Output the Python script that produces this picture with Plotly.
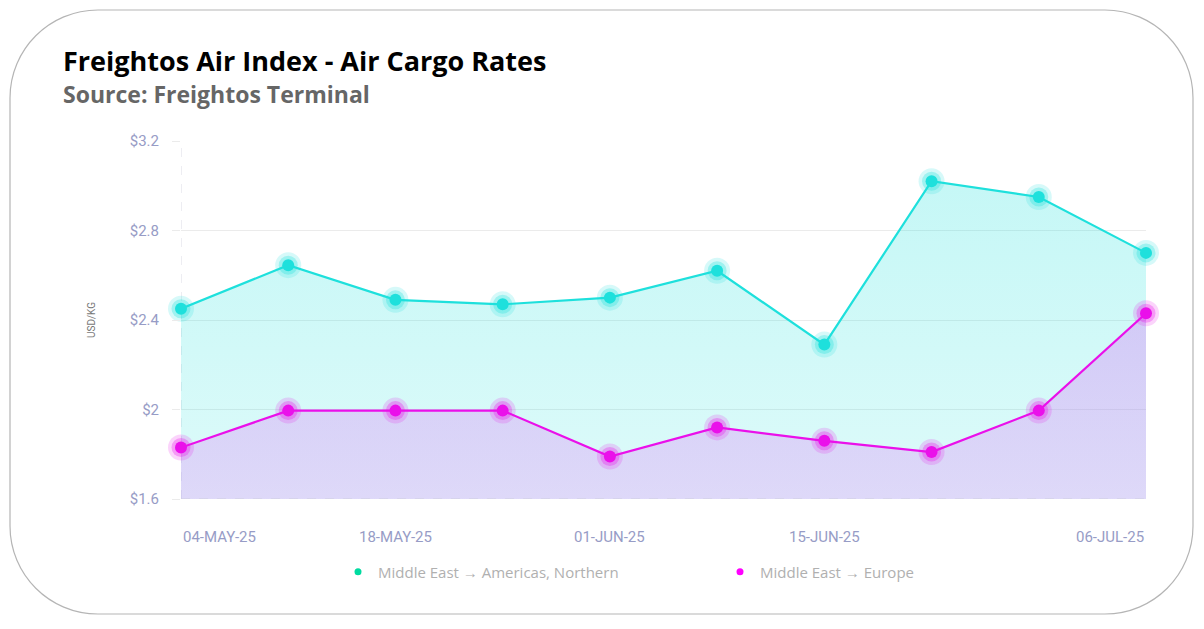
import plotly.graph_objects as go

# page body has an 8px margin, so the figure is drawn 8px in from the window edge
OFF = 8
W, H = 1204 - 2 * OFF, 629 - 2 * OFF
ML, MT = 181 - OFF, 141 - OFF
MR = W - (1146 - OFF)
MB = H - (499 - OFF)

dates = ["2025-05-04", "2025-05-11", "2025-05-18", "2025-05-25", "2025-06-01",
         "2025-06-08", "2025-06-15", "2025-06-22", "2025-06-29", "2025-07-06"]
americas = [2.45, 2.645, 2.49, 2.47, 2.50, 2.62, 2.29, 3.02, 2.95, 2.70]
europe = [1.83, 1.995, 1.995, 1.995, 1.79, 1.92, 1.86, 1.81, 1.995, 2.43]

tick_dates = ["2025-05-04", "2025-05-18", "2025-06-01", "2025-06-15", "2025-07-06"]
tick_text = ["04-MAY-25", "18-MAY-25", "01-JUN-25", "15-JUN-25", "06-JUL-25"]

names = ["Middle East \u2192 Americas, Northern", "Middle East \u2192 Europe"]

CYAN = "#1ee0dc"
MAGENTA = "#ea10ea"
LEGEND_COLORS = ["#00dba0", "#ff00ff"]
TICK_COLOR = "#979cc6"

pw = W - ML - MR
ph = H - MT - MB


def paper_x(x):
    return (x - OFF - ML) / pw


def paper_y(y):
    return (H - MB - (y - OFF)) / ph


def px(x, y):
    # window pixel position -> paper coords
    return f"{paper_x(x):.5f},{paper_y(y):.5f}"


def card_path(x0, y0, x1, y1, r):
    k = r * 0.5523
    return (
        f"M {px(x0 + r, y0)} L {px(x1 - r, y0)} "
        f"C {px(x1 - r + k, y0)} {px(x1, y0 + r - k)} {px(x1, y0 + r)} "
        f"L {px(x1, y1 - r)} "
        f"C {px(x1, y1 - r + k)} {px(x1 - r + k, y1)} {px(x1 - r, y1)} "
        f"L {px(x0 + r, y1)} "
        f"C {px(x0 + r - k, y1)} {px(x0, y1 - r + k)} {px(x0, y1 - r)} "
        f"L {px(x0, y0 + r)} "
        f"C {px(x0, y0 + r - k)} {px(x0 + r - k, y0)} {px(x0 + r, y0)} Z"
    )


fig = go.Figure()

# area fills
fig.add_trace(go.Scatter(
    x=dates, y=americas, mode="none", fill="tozeroy", showlegend=False,
    hoverinfo="skip",
    fillgradient=dict(type="vertical", start=1.6, stop=3.2,
                      colorscale=[[0, "rgba(30,225,220,0.15)"], [1, "rgba(30,225,220,0.27)"]]),
))
fig.add_trace(go.Scatter(
    x=dates, y=europe, mode="none", fill="tozeroy", showlegend=False,
    hoverinfo="skip",
    fillgradient=dict(type="vertical", start=1.6, stop=2.5,
                      colorscale=[[0, "rgba(225,110,245,0.24)"], [1, "rgba(215,100,245,0.32)"]]),
))

for vals, col in [(americas, CYAN), (europe, MAGENTA)]:
    # halo rings
    fig.add_trace(go.Scatter(x=dates, y=vals, mode="markers", showlegend=False,
                             hoverinfo="skip", cliponaxis=False,
                             marker=dict(size=26, color=col, opacity=0.18)))
    fig.add_trace(go.Scatter(x=dates, y=vals, mode="markers", showlegend=False,
                             hoverinfo="skip", cliponaxis=False,
                             marker=dict(size=19, color=col, opacity=0.3)))
    fig.add_trace(go.Scatter(x=dates, y=vals, mode="lines+markers", showlegend=False,
                             cliponaxis=False,
                             line=dict(color=col, width=2.2),
                             marker=dict(size=12, color=col)))

# legend entries (dot only)
for nm, col in zip(names, LEGEND_COLORS):
    fig.add_trace(go.Scatter(x=[None], y=[None], mode="markers", name=nm,
                             marker=dict(size=7, color=col)))

# dashed axis lines
fig.add_shape(type="line", xref="x", yref="paper", x0=dates[0], x1=dates[0], y0=0, y1=1,
              line=dict(color="#dcdce6", width=1, dash="dash"), layer="below")
fig.add_shape(type="line", xref="paper", yref="y", x0=0, x1=1, y0=1.6, y1=1.6,
              line=dict(color="#cfcfe0", width=1, dash="dash"), layer="above")

# card border
fig.add_shape(type="path", xref="paper", yref="paper",
              path=card_path(10, 10, 1193, 614, 88),
              line=dict(color="#b5b5b5", width=1.2), layer="below")

# x tick labels
for i, (d, t) in enumerate(zip(tick_dates, tick_text)):
    anchor = "left" if i == 0 else ("right" if i == len(tick_dates) - 1 else "center")
    fig.add_annotation(x=d, y=0, xref="x", yref="paper", text=t, showarrow=False,
                       xanchor=anchor, yanchor="middle", yshift=-38,
                       font=dict(family="Roboto", size=15, color=TICK_COLOR))

# titles
fig.add_annotation(x=paper_x(61), y=paper_y(60), xref="paper", yref="paper",
                   text="<b>Freightos Air Index - Air Cargo Rates</b>", showarrow=False,
                   xanchor="left", yanchor="middle",
                   font=dict(family="Open Sans", size=27, color="#000000"))
fig.add_annotation(x=paper_x(61), y=paper_y(94), xref="paper", yref="paper",
                   text="<b>Source: Freightos Terminal</b>", showarrow=False,
                   xanchor="left", yanchor="middle",
                   font=dict(family="Open Sans", size=23, color="#666666"))

fig.update_layout(
    width=W, height=H,
    margin=dict(l=ML, r=MR, t=MT, b=MB),
    paper_bgcolor="white", plot_bgcolor="white",
    showlegend=True,
    legend=dict(orientation="h", x=paper_x(338), xanchor="left",
                y=paper_y(572), yanchor="middle",
                entrywidth=337, font=dict(family="Open Sans", size=15, color="#b0b0b0"),
                itemclick=False),
    xaxis=dict(type="date", range=[dates[0], dates[-1]], showgrid=False,
               showticklabels=False, zeroline=False, showline=False, ticks=""),
    yaxis=dict(range=[1.6, 3.2], dtick=0.4, tick0=1.6, tickprefix="$",
               showgrid=True, gridcolor="#ebebeb", gridwidth=1, zeroline=False,
               ticks="outside", ticklen=8, tickcolor="#ebebeb", ticklabelstandoff=10,
               tickfont=dict(family="Roboto", size=15, color=TICK_COLOR),
               title=dict(text="USD/KG", standoff=32,
                          font=dict(family="Roboto", size=10, color="#777777"))),
)

fig.write_html("out.html")
